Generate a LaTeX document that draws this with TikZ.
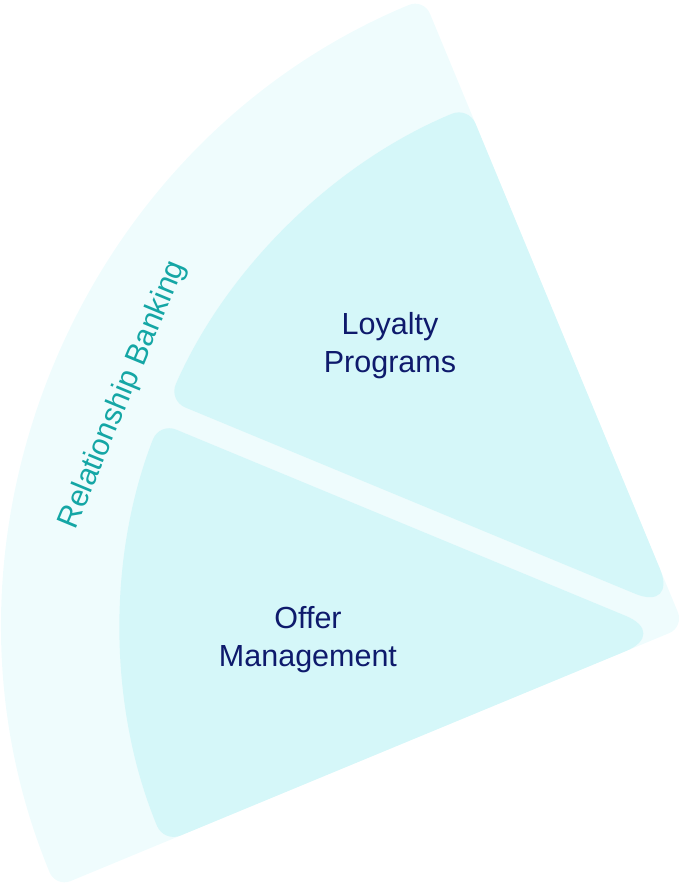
\documentclass[tikz,border=0pt]{standalone}
\usepackage{fontspec}
\setmainfont{Liberation Sans}
\definecolor{ringcol}{HTML}{EFFCFD}
\definecolor{wedgecol}{HTML}{D5F7F9}
\definecolor{navy}{HTML}{0E1A6C}
\definecolor{rbteal}{HTML}{14A6A5}
\begin{document}
\begin{tikzpicture}
    [x=1pt,y=1pt,every node/.style={inner sep=0pt, align=center, font=\fontsize{30.5}{38}\selectfont}]
  \useasboundingbox (-684,-262) rectangle (-5,627);
  % outer ring
  \fill[ringcol, rounded corners=16pt] (112.5:300) -- (112.5:680)
    arc[start angle=112.5, end angle=202.5, radius=680] -- (0,0) -- cycle;
  % the two wedges, blunt tips near the centre
  \fill[wedgecol, rounded corners=18pt] (112.5:300) -- (112.5:563)
    arc[start angle=112.5, end angle=156.28, radius=563]
    [rounded corners=46pt] -- (112.5:17) [rounded corners=18pt] -- cycle;
  \fill[wedgecol, rounded corners=18pt] (202.5:300) [rounded corners=46pt] -- (202.5:17)
    [rounded corners=18pt] -- (158.72:563) arc[start angle=158.72, end angle=202.5, radius=563] -- cycle;

  \node[text=navy] (loyalty) at (-294,281) {Loyalty\\Programs};
  \node[text=navy] (offer) at (-376,-13) {Offer\\Management};
  \node[text=rbteal, rotate=67.5] (banking) at (157.5:607) {Relationship Banking};
\end{tikzpicture}
\end{document}
